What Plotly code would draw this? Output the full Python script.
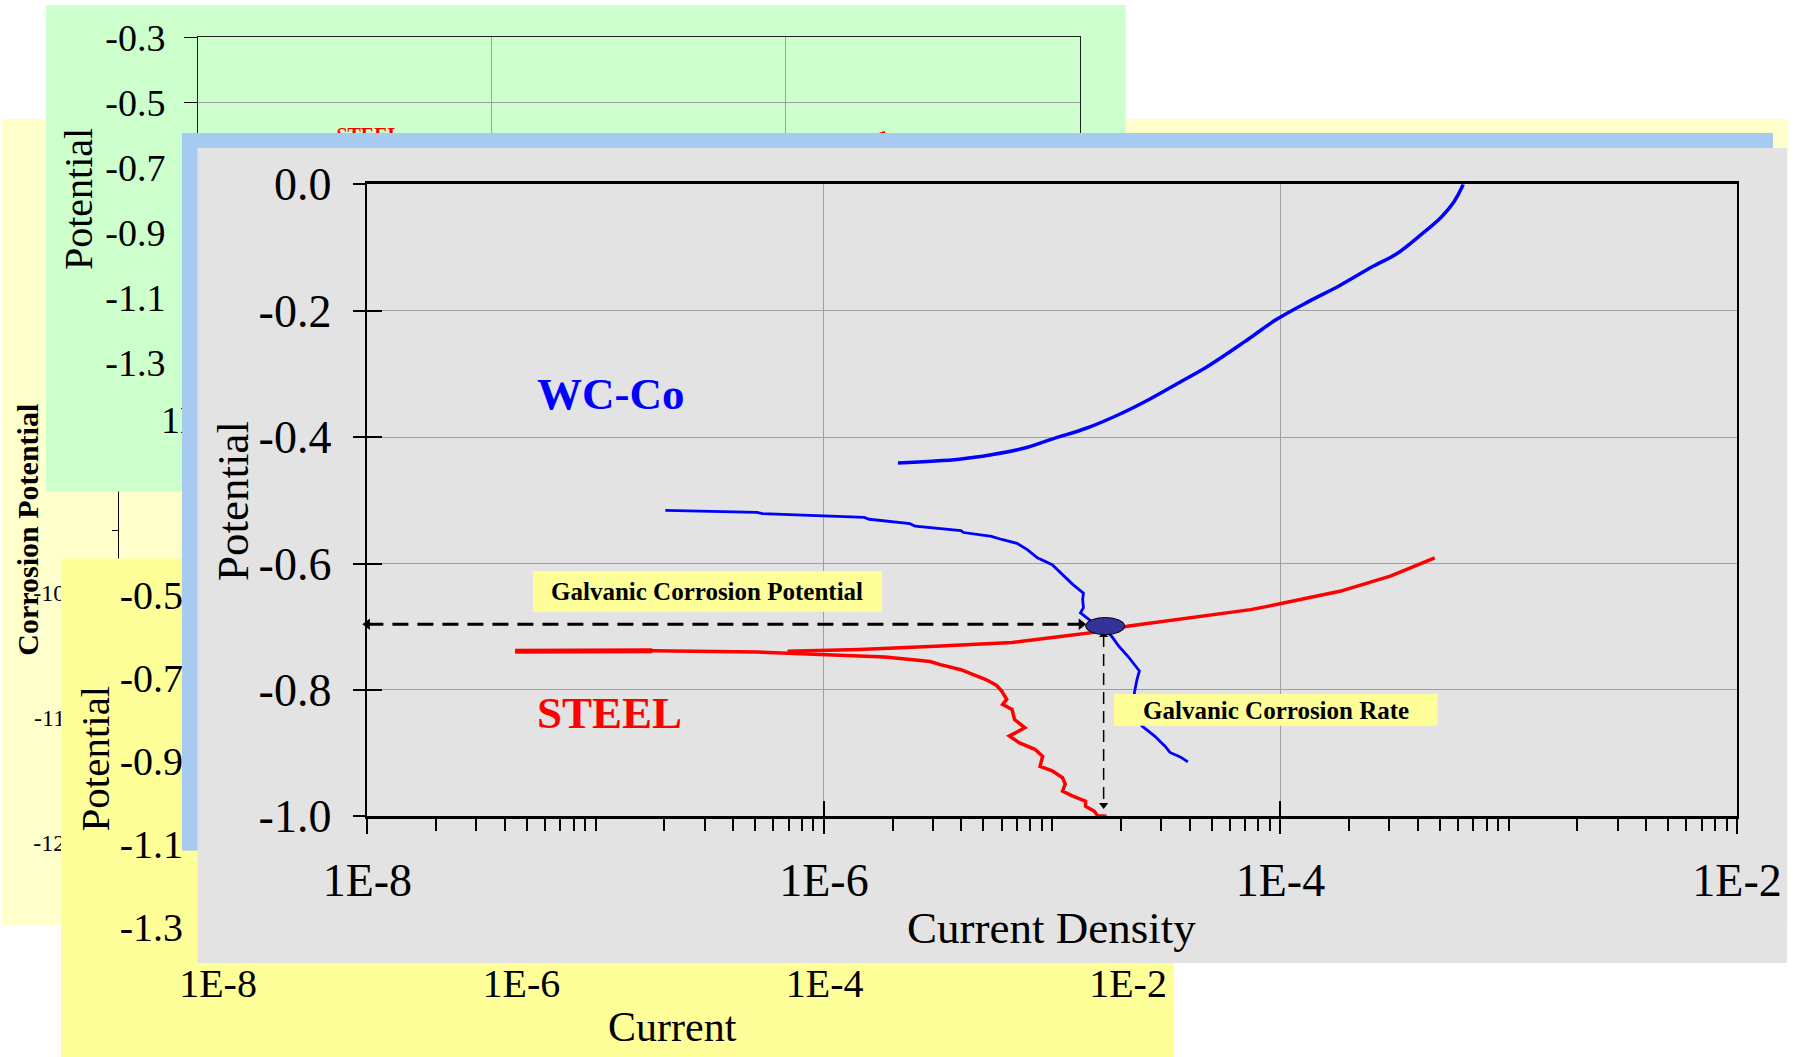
import plotly.graph_objects as go

# Canvas size in px
W, H = 1795, 1057

# ---- values ----
# WC-Co anodic branch (current density, potential)
wcco_anodic_i = [2.11e-6, 3.92e-6, 5.41e-6, 7.43e-6, 1.02e-5, 1.41e-5, 1.94e-5, 2.67e-5,
                 3.67e-5, 4.75e-5, 6.97e-5, 9.59e-5, 1.32e-4, 1.82e-4, 2.51e-4, 3.23e-4,
                 4.18e-4, 5.06e-4, 5.75e-4, 6.25e-4, 6.31e-4]
wcco_anodic_v = [-0.441, -0.435, -0.428, -0.418, -0.402, -0.386, -0.365, -0.340,
                 -0.312, -0.289, -0.249, -0.214, -0.186, -0.160, -0.131, -0.110,
                 -0.078, -0.052, -0.028, -0.004, 0.000]

# WC-Co cathodic branch
wcco_cathodic_i = [2.02e-7, 5.09e-7, 5.37e-7, 1.50e-6, 1.58e-6, 2.38e-6, 2.51e-6, 3.98e-6,
                   4.09e-6, 5.42e-6, 6.01e-6, 7.01e-6, 7.78e-6, 8.61e-6, 1.00e-5, 1.11e-5,
                   1.23e-5, 1.37e-5, 1.36e-5, 1.37e-5, 1.33e-5, 1.48e-5, 1.68e-5, 1.82e-5,
                   1.96e-5, 2.17e-5, 2.41e-5, 2.35e-5, 2.29e-5, 2.35e-5, 2.47e-5, 2.81e-5,
                   3.12e-5, 3.28e-5, 3.64e-5, 3.93e-5]
wcco_cathodic_v = [-0.516, -0.519, -0.521, -0.527, -0.530, -0.537, -0.541, -0.548,
                   -0.551, -0.557, -0.562, -0.568, -0.578, -0.591, -0.602, -0.618,
                   -0.633, -0.647, -0.657, -0.670, -0.678, -0.691, -0.702, -0.715,
                   -0.731, -0.749, -0.770, -0.784, -0.805, -0.826, -0.857, -0.873,
                   -0.889, -0.899, -0.906, -0.914]

# Steel anodic branch
steel_anodic_i = [6.93e-7, 1.43e-6, 3.08e-6, 6.67e-6, 1.11e-5, 1.52e-5, 2.17e-5, 3.12e-5,
                  5.21e-5, 7.40e-5, 9.59e-5, 1.82e-4, 3.03e-4, 4.74e-4]
steel_anodic_v = [-0.739, -0.736, -0.731, -0.725, -0.715, -0.709, -0.699, -0.691,
                  -0.681, -0.673, -0.665, -0.644, -0.620, -0.591]

# Steel cathodic branch
steel_cathodic_i = [4.44e-8, 1.77e-7, 5.09e-7, 9.93e-7, 1.85e-6, 2.92e-6, 3.24e-6, 3.98e-6,
                    4.65e-6, 5.15e-6, 5.71e-6, 6.01e-6, 6.32e-6, 6.07e-6, 6.67e-6, 6.84e-6,
                    7.59e-6, 6.49e-6, 7.19e-6, 8.39e-6, 9.08e-6, 8.85e-6, 1.00e-5, 1.11e-5,
                    1.14e-5, 1.11e-5, 1.23e-5, 1.40e-5, 1.40e-5, 1.53e-5, 1.58e-5, 1.73e-5]
steel_cathodic_v = [-0.739, -0.738, -0.740, -0.744, -0.748, -0.755, -0.760, -0.768,
                    -0.778, -0.784, -0.793, -0.802, -0.815, -0.823, -0.831, -0.847,
                    -0.860, -0.873, -0.884, -0.894, -0.905, -0.921, -0.928, -0.939,
                    -0.949, -0.960, -0.968, -0.976, -0.984, -0.992, -0.999, -1.000]

# Galvanic couple point (marked by an ellipse spanning these limits) and the dashed guides
galvanic_i = [1.40e-5, 2.08e-5]
galvanic_v = [-0.7125, -0.6855]
potential_arrow_i = [1e-8, 1.34e-5]
potential_arrow_v = [-0.696, -0.696]
rate_arrow_i = [1.68e-5, 1.68e-5]
rate_arrow_v = [-0.713, -0.982]

# Tick labels
decade_ticks = [1e-8, 1e-6, 1e-4, 1e-2]
decade_labels = ["1E-8", "1E-6", "1E-4", "1E-2"]
main_v_ticks = [0.0, -0.2, -0.4, -0.6, -0.8, -1.0]
main_v_labels = ["0.0", "-0.2", "-0.4", "-0.6", "-0.8", "-1.0"]
green_v_ticks = [-0.3, -0.5, -0.7, -0.9, -1.1, -1.3]
green_v_labels = ["-0.3", "-0.5", "-0.7", "-0.9", "-1.1", "-1.3"]
yellow_v_ticks = [-0.5, -0.7, -0.9, -1.1, -1.3]
yellow_v_labels = ["-0.5", "-0.7", "-0.9", "-1.1", "-1.3"]
corrosion_ticks = [-1000, -1100, -1200]
corrosion_labels = ["-1000", "-1100", "-1200"]

FONT = "Liberation Serif"
GRID = "#A0A0A0"


def xdom(left, right):
    """Pixel columns -> paper domain."""
    return [left / W, right / W]


def ydom(top, bottom):
    """Pixel rows -> paper domain."""
    return [1 - bottom / H, 1 - top / H]


def ax_key(n):
    return "" if n == 1 else str(n)


def add_card(fig, n, color, left, top, right, bottom):
    """Coloured slide card, drawn as a fill in its own subplot so later subplots cover it."""
    k = ax_key(n)
    fig.add_trace(go.Scatter(x=[0, 1, 1, 0], y=[0, 0, 1, 1], fill="toself", fillcolor=color,
                             mode="lines", line=dict(width=0), hoverinfo="skip",
                             showlegend=False, xaxis=f"x{k}", yaxis=f"y{k}"))
    fig.update_layout(**{
        f"xaxis{k}": dict(domain=xdom(left, right), range=[0, 1], visible=False, anchor=f"y{k}"),
        f"yaxis{k}": dict(domain=ydom(top, bottom), range=[0, 1], visible=False, anchor=f"x{k}"),
    })


def curve(i, v, color, width, n, shape="linear"):
    k = ax_key(n)
    return go.Scatter(x=i, y=v, mode="lines", line=dict(color=color, width=width, shape=shape),
                      hoverinfo="skip", showlegend=False, xaxis=f"x{k}", yaxis=f"y{k}")


def empty(n):
    k = ax_key(n)
    return go.Scatter(x=[], y=[], mode="lines", showlegend=False, xaxis=f"x{k}", yaxis=f"y{k}")


def label(x, y, text, size, color="black", bold=False, angle=0):
    return dict(x=x / W, y=1 - y / H, xref="paper", yref="paper",
                text=f"<b>{text}</b>" if bold else text, showarrow=False, textangle=angle,
                font=dict(family=FONT, size=size, color=color),
                xanchor="center", yanchor="middle")


fig = go.Figure()

# 1-2: pale yellow slide with its "Corrosion Potential" axis
add_card(fig, 1, "#FFFFCC", 2, 119, 1788.5, 925)
fig.add_trace(empty(2))
fig.update_layout(
    xaxis2=dict(domain=xdom(119, 1000), range=[0, 1], visible=False, anchor="y2"),
    yaxis2=dict(domain=ydom(294, 917), range=[-1260, -760], anchor="x2",
                tickvals=corrosion_ticks, ticktext=corrosion_labels,
                tickfont=dict(family=FONT, size=24, color="black"),
                ticks="outside", ticklen=6, tickcolor="black", ticklabelstandoff=18,
                minor=dict(dtick=50, ticks="outside", ticklen=6, tickcolor="black", showgrid=False),
                showline=True, linecolor="black", linewidth=1, showgrid=False, zeroline=False),
)

# 3-4: green slide, same steel data on a wider potential scale
add_card(fig, 3, "#CCFFCC", 46, 5, 1125.8, 491.7)
fig.add_trace(curve(steel_cathodic_i, steel_cathodic_v, "red", 2, 4))
fig.add_trace(curve(steel_anodic_i, steel_anodic_v, "red", 2, 4))
fig.add_trace(go.Scatter(x=[1.45e-7], y=[-0.608], mode="text", text=["<b>STEEL</b>"],
                         textfont=dict(family=FONT, size=20, color="red"),
                         hoverinfo="skip", showlegend=False, xaxis="x4", yaxis="y4"))
fig.update_layout(
    xaxis4=dict(domain=xdom(198, 1079.6), type="log", range=[-8, -2], anchor="y4",
                tickvals=decade_ticks, ticktext=decade_labels,
                tickfont=dict(family=FONT, size=38, color="black"),
                ticks="outside", ticklen=12, tickcolor="black", ticklabelstandoff=12,
                showline=True, mirror=True, linecolor="#222222", showgrid=True,
                gridcolor=GRID, zeroline=False),
    yaxis4=dict(domain=ydom(37.3, 362.3), range=[-1.3, -0.3], anchor="x4",
                tickvals=green_v_ticks, ticktext=green_v_labels,
                tickfont=dict(family=FONT, size=38, color="black"),
                ticks="outside", ticklen=13, tickcolor="black", ticklabelstandoff=11,
                showline=True, mirror=True, linecolor="#222222", showgrid=True,
                gridcolor=GRID, zeroline=False),
)

# 5-6: yellow slide
add_card(fig, 5, "#FFFF99", 61, 558.3, 1174, 1057)
fig.add_trace(empty(6))
fig.update_layout(
    xaxis6=dict(domain=xdom(218, 1128), type="log", range=[-8, -2], anchor="y6",
                tickvals=decade_ticks, ticktext=decade_labels,
                tickfont=dict(family=FONT, size=40, color="black"),
                ticks="outside", ticklen=12, tickcolor="black", ticklabelstandoff=9,
                showline=True, linecolor="black", showgrid=False, zeroline=False),
    yaxis6=dict(domain=ydom(595, 926.7), range=[-1.3, -0.5], anchor="x6",
                tickvals=yellow_v_ticks, ticktext=yellow_v_labels,
                tickfont=dict(family=FONT, size=40, color="black"),
                ticks="outside", ticklen=13, tickcolor="black", ticklabelstandoff=13,
                showline=True, linecolor="black", showgrid=False, zeroline=False),
)

# 7-8: blue frame and grey card of the front slide
add_card(fig, 7, "#A6CAF0", 182, 133, 1773, 850.7)
add_card(fig, 8, "#E3E3E3", 197.3, 147.7, 1787, 963)

# 9: the polarisation plot itself
fig.add_trace(curve(wcco_anodic_i, wcco_anodic_v, "#0000FF", 3.5, 9, shape="spline"))
fig.add_trace(curve(wcco_cathodic_i, wcco_cathodic_v, "#0000FF", 2.8, 9))
fig.add_trace(curve(steel_cathodic_i, steel_cathodic_v, "#FF0000", 3.5, 9))
# the first stretch of the steel trace is drawn over twice in the original, so it looks heavier
fig.add_trace(curve(steel_cathodic_i[:2], steel_cathodic_v[:2], "#FF0000", 5, 9))
fig.add_trace(curve(steel_anodic_i, steel_anodic_v, "#FF0000", 3.5, 9))

# dashed guides with arrow heads
fig.add_trace(go.Scatter(x=potential_arrow_i, y=potential_arrow_v, mode="lines",
                         line=dict(color="black", width=3, dash="16px,9px"),
                         hoverinfo="skip", showlegend=False, xaxis="x9", yaxis="y9"))
fig.add_trace(go.Scatter(x=potential_arrow_i, y=potential_arrow_v, mode="markers",
                         marker=dict(symbol=["triangle-left", "triangle-right"], size=10, color="black"),
                         cliponaxis=False, hoverinfo="skip", showlegend=False, xaxis="x9", yaxis="y9"))
fig.add_trace(go.Scatter(x=rate_arrow_i, y=rate_arrow_v, mode="lines",
                         line=dict(color="black", width=1.5, dash="12px,7px"),
                         hoverinfo="skip", showlegend=False, xaxis="x9", yaxis="y9"))
fig.add_trace(go.Scatter(x=rate_arrow_i, y=rate_arrow_v, mode="markers",
                         marker=dict(symbol=["triangle-up", "triangle-down"], size=8, color="black"),
                         cliponaxis=False, hoverinfo="skip", showlegend=False, xaxis="x9", yaxis="y9"))

# 10: overlay axes that only add the inner half of the major ticks
fig.add_trace(empty(10))

minor_ticks = [k * 10.0 ** e for e in range(-8, -2) for k in range(1, 10)]

fig.update_layout(
    xaxis9=dict(domain=xdom(367.4, 1737), type="log", range=[-8, -2], anchor="y9",
                tickvals=decade_ticks, ticktext=decade_labels,
                tickfont=dict(family=FONT, size=46, color="black"),
                ticks="outside", ticklen=15, tickwidth=1.5, tickcolor="black",
                ticklabelstandoff=7,
                minor=dict(tickvals=minor_ticks, ticks="outside", ticklen=12,
                           tickcolor="black", showgrid=False),
                showline=True, mirror=True, linecolor="black", linewidth=2.5,
                showgrid=True, gridcolor=GRID, gridwidth=1, zeroline=False),
    yaxis9=dict(domain=ydom(184.3, 816.3), range=[-1, 0], anchor="x9",
                tickvals=main_v_ticks, ticktext=main_v_labels,
                tickfont=dict(family=FONT, size=46, color="black"),
                ticks="outside", ticklen=13, tickwidth=1.5, tickcolor="black",
                ticklabelstandoff=12,
                showline=True, mirror=True, linecolor="black", linewidth=1.5,
                showgrid=True, gridcolor=GRID, gridwidth=1, zeroline=False),
    xaxis10=dict(overlaying="x9", anchor="y10", type="log", range=[-8, -2],
                 tickvals=decade_ticks, ticks="inside", ticklen=15, tickwidth=1.5,
                 tickcolor="black", showticklabels=False, showgrid=False,
                 showline=False, zeroline=False),
    yaxis10=dict(overlaying="y9", anchor="x10", range=[-1, 0],
                 tickvals=main_v_ticks, ticks="inside", ticklen=15, tickwidth=1.5,
                 tickcolor="black", showticklabels=False, showgrid=False,
                 showline=False, zeroline=False),
)

shapes = [
    # yellow boxes behind the callouts
    dict(type="rect", xref="paper", yref="paper", layer="above",
         x0=533 / W, x1=882 / W, y0=1 - 611.7 / H, y1=1 - 571 / H,
         fillcolor="#FFFF99", line=dict(width=0)),
    dict(type="rect", xref="paper", yref="paper", layer="above",
         x0=1114 / W, x1=1437.6 / W, y0=1 - 725.7 / H, y1=1 - 694 / H,
         fillcolor="#FFFF99", line=dict(width=0)),
    # the galvanic couple point
    dict(type="circle", xref="x9", yref="y9", layer="above",
         x0=galvanic_i[0], x1=galvanic_i[1], y0=galvanic_v[0], y1=galvanic_v[1],
         fillcolor="#333399", line=dict(color="black", width=1)),
]

annotations = [
    label(26.7, 530, "Corrosion Potential", 30, bold=True, angle=-90),
    label(79, 199, "Potential", 40, angle=-90),
    label(94, 758.5, "Potential", 41, angle=-90),
    label(672, 1027, "Current", 42),
    label(233, 501, "Potential", 45, angle=-90),
    label(1051, 928, "Current Density", 45),
    label(610, 394, "WC-Co", 45, color="#0000FF", bold=True),
    label(609, 712.5, "STEEL", 45, color="#FF0000", bold=True),
    label(707, 591, "Galvanic Corrosion Potential", 25, bold=True),
    label(1276, 710, "Galvanic Corrosion Rate", 25, bold=True),
]

fig.update_layout(
    width=W, height=H, autosize=False,
    margin=dict(l=0, r=0, t=0, b=0, pad=0, autoexpand=False),
    paper_bgcolor="white", plot_bgcolor="rgba(0,0,0,0)",
    showlegend=False, shapes=shapes, annotations=annotations,
    font=dict(family=FONT, color="black"),
)

fig.write_html("out.html", config={"displayModeBar": False},
               post_script="document.body.style.margin='0px';")
